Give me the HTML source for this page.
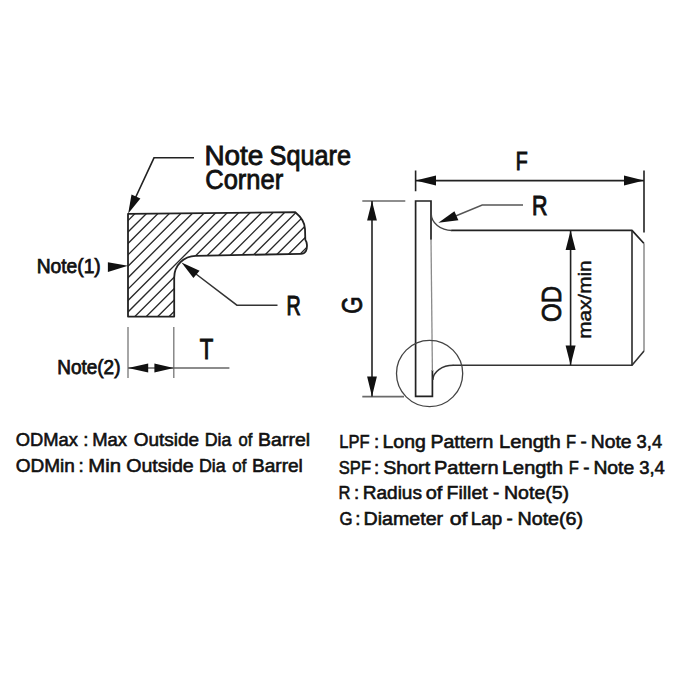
<!DOCTYPE html>
<html><head><meta charset="utf-8"><style>
html,body{margin:0;padding:0;background:#fff;}
svg{display:block;}
text{font-family:"Liberation Sans",sans-serif;fill:#111;stroke:#111;stroke-width:0.6px;}
</style></head><body>
<svg width="680" height="680" viewBox="0 0 680 680">
<defs>
<clipPath id="lc"><path d="M128,213.8 L295.3,212.2 C300.5,216.5 304.8,222 305,229 L305.3,239.7 C307,242 307.8,247 305.8,251.3 C304.6,253.2 303,253.9 301,253.9 L195.7,255.8 A21.5,21.8 0 0 0 174.2,277.6 V316.6 H128 Z"/></clipPath>
</defs>
<rect width="680" height="680" fill="#fff"/>
<!-- LEFT FIGURE -->
<g clip-path="url(#lc)"><path d="M102.92,200L-27.08,330M114.34,200L-15.66,330M125.76,200L-4.24,330M137.18,200L7.18,330M148.60,200L18.60,330M160.02,200L30.02,330M171.44,200L41.44,330M182.86,200L52.86,330M194.28,200L64.28,330M205.70,200L75.70,330M217.12,200L87.12,330M228.54,200L98.54,330M239.96,200L109.96,330M251.38,200L121.38,330M262.80,200L132.80,330M274.22,200L144.22,330M285.64,200L155.64,330M297.06,200L167.06,330M308.48,200L178.48,330M319.90,200L189.90,330M331.32,200L201.32,330M342.74,200L212.74,330M354.16,200L224.16,330M365.58,200L235.58,330M377.00,200L247.00,330M388.42,200L258.42,330M399.84,200L269.84,330M411.26,200L281.26,330M422.68,200L292.68,330M434.10,200L304.10,330M445.52,200L315.52,330" stroke="#2a2a2a" stroke-width="1.35" fill="none"/></g>
<path d="M128,213.8 L295.3,212.2 C300.5,216.5 304.8,222 305,229 L305.3,239.7 C307,242 307.8,247 305.8,251.3 C304.6,253.2 303,253.9 301,253.9 L195.7,255.8 A21.5,21.8 0 0 0 174.2,277.6 V316.6 H128 Z" fill="none" stroke="#222" stroke-width="1.8" stroke-linejoin="round"/>
<!-- note square corner leader -->
<path d="M194,157.8 H154 L133,203" fill="none" stroke="#222" stroke-width="1.6"/>
<path d="M128.2,213.5 L131.5,194.6 L140.4,198.6 Z" fill="#111"/>
<!-- note1 arrow -->
<path d="M128,265.8 L107.9,262.2 L107.9,271.9 Z" fill="#111"/>
<!-- R leader left -->
<path d="M194,272.5 L236.9,305.2 H277.5" fill="none" stroke="#333" stroke-width="1.5"/>
<path d="M181.5,262.6 L199.6,270.7 L193.4,278 Z" fill="#111"/>
<!-- T dimension -->
<path d="M128,327 V378 M173.8,327 V378" stroke="#777" stroke-width="1.3" fill="none"/>
<path d="M128,368 H229.4" stroke="#666" stroke-width="1.3" fill="none"/>
<path d="M128,368 L148.2,363.6 L148.2,372.4 Z M173.8,368 L154.4,363.6 L154.4,372.4 Z" fill="#111"/>

<!-- RIGHT FIGURE -->
<!-- F dimension -->
<path d="M415.6,170.6 V191.2 M644,170.4 V232.6" stroke="#222" stroke-width="1.6" fill="none"/>
<path d="M415.6,180.6 H644" stroke="#222" stroke-width="1.6" fill="none"/>
<path d="M415.6,180.6 L436,175.6 L436,185.6 Z M644,180.6 L624,175.6 L624,185.6 Z" fill="#111"/>
<!-- G dimension -->
<path d="M362.3,201 H405.3 M362.3,396.6 H404" stroke="#6a6a6a" stroke-width="1.6" fill="none"/>
<path d="M372,201 V396.6" stroke="#222" stroke-width="1.6" fill="none"/>
<path d="M372,201 L367.1,220.6 L376.9,220.6 Z M372,396.6 L367.1,376.6 L376.9,376.6 Z" fill="#111"/>
<!-- flange -->
<path d="M431,240 V201 H415.6 V396.4 H432.4 V370" fill="none" stroke="#222" stroke-width="1.7"/>
<path d="M431,239 L432.4,371" fill="none" stroke="#8a8a8a" stroke-width="1.3"/>
<!-- fillet top + barrel -->
<path d="M431.2,213.5 A20.8,17 0 0 0 452,230.5" fill="none" stroke="#444" stroke-width="1.4"/>
<path d="M451.5,230.4 H632 L644,243.5" fill="none" stroke="#222" stroke-width="1.7" stroke-linejoin="round"/>
<path d="M644,243.5 V351" fill="none" stroke="#8a8a8a" stroke-width="1.5"/>
<path d="M644,351 L632,365.2 H452.8" fill="none" stroke="#333" stroke-width="1.6" stroke-linejoin="round"/>
<path d="M632,230 V365.2" stroke="#2a2a2a" stroke-width="1.6" fill="none"/>
<!-- bottom fillet -->
<path d="M432.8,380 A20.5,15 0 0 1 453.3,365.2" fill="none" stroke="#333" stroke-width="1.5"/>
<!-- circle -->
<circle cx="429.6" cy="373.5" r="33.1" fill="none" stroke="#444" stroke-width="1.3"/>
<!-- R leader right -->
<path d="M452,217.5 L482.2,205 H523" fill="none" stroke="#555" stroke-width="1.4"/>
<path d="M438.4,222.8 L454.4,211.3 L458.4,220.2 Z" fill="#111"/>
<!-- OD dim -->
<path d="M570.6,230.6 V365.2" stroke="#222" stroke-width="1.6" fill="none"/>
<path d="M570.6,230.6 L565.6,250 L575.6,250 Z M570.6,365.2 L565.6,345.6 L575.6,345.6 Z" fill="#111"/>


<text x="204.41" y="165.00" font-size="27.3" textLength="58.98" lengthAdjust="spacingAndGlyphs" style="stroke-width:0.85px">Note</text>
<text x="269.61" y="165.00" font-size="27.3" textLength="81.42" lengthAdjust="spacingAndGlyphs" style="stroke-width:0.85px">Square</text>
<text x="205.27" y="188.50" font-size="27.3" textLength="77.88" lengthAdjust="spacingAndGlyphs" style="stroke-width:0.85px">Corner</text>
<text x="36.67" y="272.60" font-size="19.5" textLength="64.10" lengthAdjust="spacingAndGlyphs" style="stroke-width:0.75px">Note(1)</text>
<text x="286.45" y="314.90" font-size="27.5" textLength="14.22" lengthAdjust="spacingAndGlyphs" style="stroke-width:1.1px">R</text>
<text x="199.70" y="358.50" font-size="29.5" textLength="13.52" lengthAdjust="spacingAndGlyphs" style="stroke-width:1.1px">T</text>
<text x="57.29" y="374.40" font-size="19.5" textLength="63.17" lengthAdjust="spacingAndGlyphs" style="stroke-width:0.75px">Note(2)</text>
<text x="515.67" y="169.90" font-size="26" textLength="11.92" lengthAdjust="spacingAndGlyphs" style="stroke-width:1.1px">F</text>
<text x="531.99" y="215.40" font-size="28.5" textLength="15.47" lengthAdjust="spacingAndGlyphs" style="stroke-width:1.1px">R</text>
<text transform="translate(362.20,312.90) rotate(-90)" x="-0.77" y="0" font-size="29" textLength="17.36" lengthAdjust="spacingAndGlyphs" style="stroke-width:0.75px">G</text>
<text transform="translate(561.00,321.20) rotate(-90)" x="-0.86" y="0" font-size="28" textLength="36.12" lengthAdjust="spacingAndGlyphs" style="stroke-width:0.8px">OD</text>
<text transform="translate(591.10,337.70) rotate(-90)" x="-1.15" y="0" font-size="18" textLength="78.42" lengthAdjust="spacingAndGlyphs" style="stroke-width:0.45px">max/min</text>
<text x="15.71" y="445.60" font-size="18.8" textLength="62.15" lengthAdjust="spacingAndGlyphs">ODMax</text>
<text x="83.17" y="445.60" font-size="18.8" textLength="5.22" lengthAdjust="spacingAndGlyphs">:</text>
<text x="92.28" y="445.60" font-size="18.8" textLength="34.76" lengthAdjust="spacingAndGlyphs">Max</text>
<text x="133.79" y="445.60" font-size="18.8" textLength="65.39" lengthAdjust="spacingAndGlyphs">Outside</text>
<text x="204.72" y="445.60" font-size="18.8" textLength="26.69" lengthAdjust="spacingAndGlyphs">Dia</text>
<text x="238.46" y="445.60" font-size="18.8" textLength="13.85" lengthAdjust="spacingAndGlyphs">of</text>
<text x="258.10" y="445.60" font-size="18.8" textLength="52.09" lengthAdjust="spacingAndGlyphs">Barrel</text>
<text x="15.69" y="472.00" font-size="18.8" textLength="59.05" lengthAdjust="spacingAndGlyphs">ODMin</text>
<text x="78.62" y="472.00" font-size="18.8" textLength="5.22" lengthAdjust="spacingAndGlyphs">:</text>
<text x="88.25" y="472.00" font-size="18.8" textLength="32.75" lengthAdjust="spacingAndGlyphs">Min</text>
<text x="126.28" y="472.00" font-size="18.8" textLength="67.43" lengthAdjust="spacingAndGlyphs">Outside</text>
<text x="198.91" y="472.00" font-size="18.8" textLength="26.79" lengthAdjust="spacingAndGlyphs">Dia</text>
<text x="232.35" y="472.00" font-size="18.8" textLength="14.05" lengthAdjust="spacingAndGlyphs">of</text>
<text x="251.93" y="472.00" font-size="18.8" textLength="50.94" lengthAdjust="spacingAndGlyphs">Barrel</text>
<text x="339.24" y="448.00" font-size="18.8" textLength="30.32" lengthAdjust="spacingAndGlyphs">LPF</text>
<text x="374.02" y="448.00" font-size="18.8" textLength="5.22" lengthAdjust="spacingAndGlyphs">:</text>
<text x="382.51" y="448.00" font-size="18.8" textLength="43.26" lengthAdjust="spacingAndGlyphs">Long</text>
<text x="430.50" y="448.00" font-size="18.8" textLength="62.94" lengthAdjust="spacingAndGlyphs">Pattern</text>
<text x="498.96" y="448.00" font-size="18.8" textLength="61.77" lengthAdjust="spacingAndGlyphs">Length</text>
<text x="566.11" y="448.00" font-size="18.8" textLength="10.11" lengthAdjust="spacingAndGlyphs">F</text>
<text x="580.52" y="448.00" font-size="18.8" textLength="6.27" lengthAdjust="spacingAndGlyphs">-</text>
<text x="590.81" y="448.00" font-size="18.8" textLength="40.82" lengthAdjust="spacingAndGlyphs">Note</text>
<text x="636.61" y="448.00" font-size="18.8" textLength="25.50" lengthAdjust="spacingAndGlyphs">3,4</text>
<text x="338.84" y="473.50" font-size="18.8" textLength="32.15" lengthAdjust="spacingAndGlyphs">SPF</text>
<text x="373.88" y="473.50" font-size="18.8" textLength="5.22" lengthAdjust="spacingAndGlyphs">:</text>
<text x="383.28" y="473.50" font-size="18.8" textLength="46.81" lengthAdjust="spacingAndGlyphs">Short</text>
<text x="433.97" y="473.50" font-size="18.8" textLength="64.60" lengthAdjust="spacingAndGlyphs">Pattern</text>
<text x="501.97" y="473.50" font-size="18.8" textLength="61.04" lengthAdjust="spacingAndGlyphs">Length</text>
<text x="568.71" y="473.50" font-size="18.8" textLength="10.11" lengthAdjust="spacingAndGlyphs">F</text>
<text x="583.33" y="473.50" font-size="18.8" textLength="6.27" lengthAdjust="spacingAndGlyphs">-</text>
<text x="593.41" y="473.50" font-size="18.8" textLength="40.82" lengthAdjust="spacingAndGlyphs">Note</text>
<text x="639.21" y="473.50" font-size="18.8" textLength="25.60" lengthAdjust="spacingAndGlyphs">3,4</text>
<text x="338.47" y="499.30" font-size="18.8" textLength="11.95" lengthAdjust="spacingAndGlyphs">R</text>
<text x="354.02" y="499.30" font-size="18.8" textLength="5.22" lengthAdjust="spacingAndGlyphs">:</text>
<text x="362.73" y="499.30" font-size="18.8" textLength="59.24" lengthAdjust="spacingAndGlyphs">Radius</text>
<text x="425.67" y="499.30" font-size="18.8" textLength="16.68" lengthAdjust="spacingAndGlyphs">of</text>
<text x="446.61" y="499.30" font-size="18.8" textLength="41.00" lengthAdjust="spacingAndGlyphs">Fillet</text>
<text x="493.12" y="499.30" font-size="18.8" textLength="6.27" lengthAdjust="spacingAndGlyphs">-</text>
<text x="504.00" y="499.30" font-size="18.8" textLength="65.13" lengthAdjust="spacingAndGlyphs">Note(5)</text>
<text x="339.43" y="524.80" font-size="18.8" textLength="13.06" lengthAdjust="spacingAndGlyphs">G</text>
<text x="355.32" y="524.80" font-size="18.8" textLength="5.22" lengthAdjust="spacingAndGlyphs">:</text>
<text x="363.60" y="524.80" font-size="18.8" textLength="79.56" lengthAdjust="spacingAndGlyphs">Diameter</text>
<text x="449.73" y="524.80" font-size="18.8" textLength="17.80" lengthAdjust="spacingAndGlyphs">of</text>
<text x="470.85" y="524.80" font-size="18.8" textLength="31.24" lengthAdjust="spacingAndGlyphs">Lap</text>
<text x="506.57" y="524.80" font-size="18.8" textLength="6.27" lengthAdjust="spacingAndGlyphs">-</text>
<text x="517.49" y="524.80" font-size="18.8" textLength="65.64" lengthAdjust="spacingAndGlyphs">Note(6)</text>
</svg>
</body></html>
